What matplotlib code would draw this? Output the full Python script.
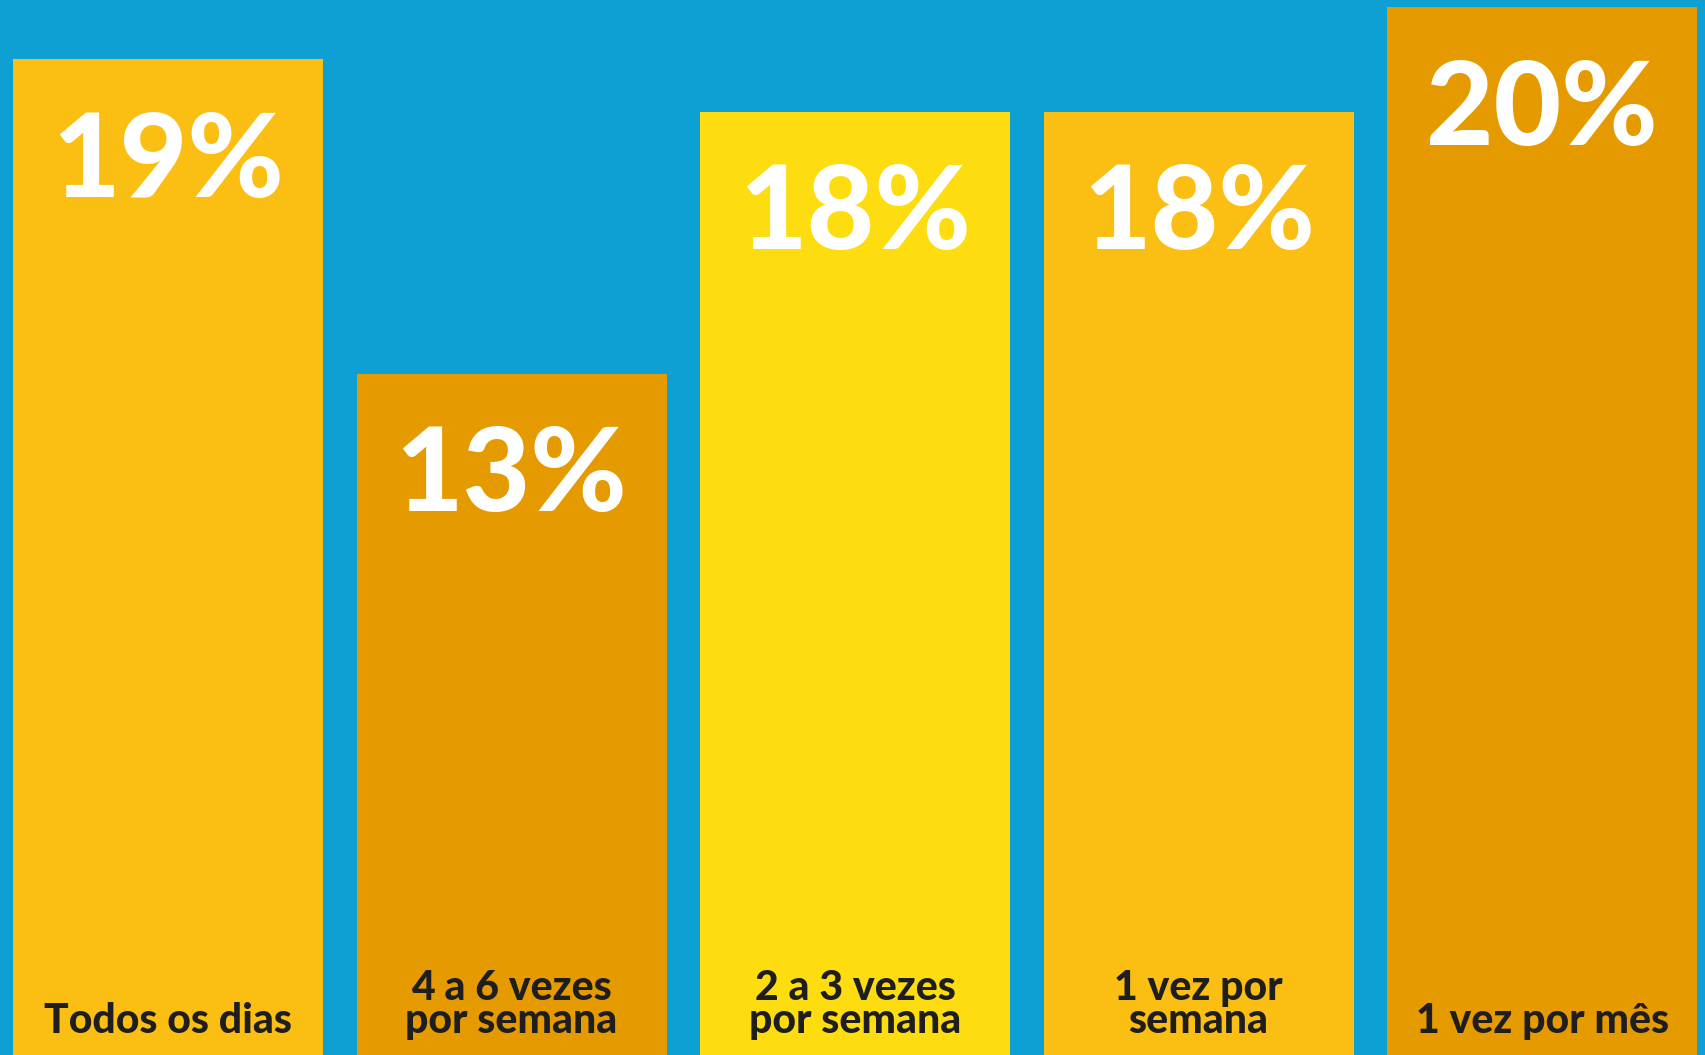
import matplotlib
matplotlib.use("Agg")
import matplotlib.pyplot as plt

plt.rcParams["font.family"] = ["Lato", "DejaVu Sans"]

categories = ["Todos os dias", "4 a 6 vezes\npor semana", "2 a 3 vezes\npor semana",
              "1 vez por\nsemana", "1 vez por mês"]
values = [19, 13, 18, 18, 20]
labels = ["19%", "13%", "18%", "18%", "20%"]

BG = "#0fa0d3"
colors = ["#fbbf14", "#e59b00", "#fddd10", "#fbbf14", "#e59b00"]
INK = "#1e1e1e"

fig = plt.figure(figsize=(17.06, 10.55), dpi=100)
fig.patch.set_facecolor(BG)
ax = fig.add_axes([0, 0, 1, 1])
ax.set_facecolor(BG)

x = range(len(values))
ax.bar(x, values, width=0.9025, color=colors, edgecolor="none", zorder=2)

for i, (v, lab, cat) in enumerate(zip(values, labels, categories)):
    ax.text(i, v - 1.98, lab, ha="center", va="center", color="white",
            fontsize=84, fontweight="black", zorder=3)
    ax.text(i, 0.28, cat, ha="center", va="bottom", color=INK,
            fontsize=29.5, fontweight="black", linespacing=0.85, zorder=3)

ax.set_xlim(-0.489, 4.477)
ax.set_ylim(0, 20.13)
ax.axis("off")

fig.savefig("out.png", dpi=100, facecolor=BG)
plt.close(fig)
